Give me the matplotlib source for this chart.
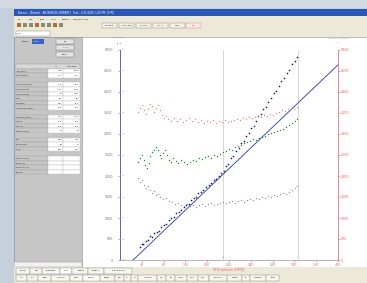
import matplotlib
matplotlib.use('Agg')
import matplotlib.pyplot as plt
from matplotlib.patches import Rectangle

# breath-by-breath data (VO2 on x)
vco2_x = [36, 40, 43, 47, 52, 55, 58, 63, 67, 72, 76, 80, 85, 90, 94, 99, 103, 108, 112, 117,
          121, 126, 131, 135, 140, 144, 149, 153, 158, 163, 167, 172, 176, 181, 186, 190, 195,
          199, 204, 208, 213, 218, 222, 227, 231, 236, 240, 245, 250, 254, 259, 263, 268, 272,
          277, 282, 286, 291, 296, 301, 306, 311, 316, 321, 325]
vco2_y = [300, 390, 370, 450, 480, 560, 540, 650, 660, 700, 790, 840, 860, 950, 1010, 1030, 1110,
          1140, 1180, 1270, 1310, 1340, 1430, 1480, 1510, 1590, 1620, 1660, 1750, 1780, 1830, 1910,
          1930, 2010, 2060, 2120, 2230, 2290, 2420, 2470, 2600, 2660, 2790, 2840, 2960, 3020, 3150,
          3200, 3300, 3420, 3480, 3600, 3650, 3770, 3850, 3980, 4020, 4150, 4250, 4330, 4460, 4520,
          4660, 4730, 4840]

vo2x = [33, 37, 40, 44, 46, 50, 53, 55, 59, 62, 66, 70, 73, 75, 79, 83, 86, 90, 94, 97, 103, 106,
        112, 117, 123, 128, 134, 139, 145, 150, 156, 161, 167, 172, 178, 184, 189, 195, 200, 206,
        211, 217, 222, 228, 233, 239, 244, 250, 255, 261, 266, 272, 277, 283, 288, 294, 299, 305,
        310, 316, 321, 325]
hr_y = [2332, 2428, 2499, 2380, 2261, 2190, 2309, 2475, 2570, 2618, 2689, 2618, 2499, 2428, 2547,
        2618, 2499, 2380, 2332, 2428, 2356, 2309, 2380, 2332, 2285, 2332, 2380, 2356, 2428, 2404,
        2451, 2475, 2428, 2499, 2475, 2523, 2570, 2594, 2642, 2618, 2689, 2713, 2737, 2785, 2808,
        2832, 2880, 2856, 2904, 2927, 2951, 2999, 3023, 3046, 3070, 3094, 3118, 3165, 3213, 3261,
        3308, 3356]

eq_x = [33, 37, 40, 44, 48, 51, 55, 59, 62, 66, 70, 73, 77, 81, 84, 88, 94, 99, 105, 110, 116,
        121, 127, 132, 138, 143, 149, 154, 160, 165, 171, 176, 182, 187, 193, 198, 204, 209, 215,
        220, 226, 231, 237, 242, 248, 253, 259, 264, 270, 275, 281, 286, 292, 297, 303, 308, 314,
        319, 325]
ve_vo2 = [3523, 3618, 3689, 3570, 3475, 3594, 3713, 3665, 3523, 3618, 3689, 3570, 3451, 3380, 3427,
          3356, 3308, 3380, 3308, 3356, 3284, 3332, 3380, 3308, 3356, 3284, 3332, 3261, 3308, 3284,
          3332, 3261, 3308, 3284, 3332, 3284, 3308, 3332, 3356, 3332, 3380, 3356, 3403, 3380, 3403,
          3427, 3403, 3451, 3427, 3475, 3451, 3499, 3523, 3570, 3547, 3594, 3618, 3594, 3641]

eq2_x = [33, 37, 40, 44, 48, 51, 55, 59, 62, 66, 70, 73, 79, 84, 90, 95, 101, 106, 112, 117, 123,
         128, 134, 139, 145, 150, 156, 161, 167, 172, 178, 184, 189, 195, 200, 206, 211, 217, 222,
         228, 233, 239, 244, 250, 255, 261, 266, 272, 277, 283, 288, 294, 299, 305, 310, 316, 321,
         325]
ve_vco2 = [1952, 1856, 1904, 1785, 1714, 1761, 1666, 1595, 1642, 1547, 1571, 1499, 1452, 1476, 1404,
           1380, 1333, 1357, 1309, 1285, 1333, 1285, 1309, 1261, 1309, 1333, 1285, 1333, 1357, 1309,
           1333, 1357, 1380, 1357, 1380, 1404, 1357, 1404, 1428, 1380, 1428, 1452, 1428, 1476, 1452,
           1499, 1476, 1523, 1499, 1547, 1523, 1571, 1595, 1571, 1618, 1666, 1714, 1761]

line_x = [24, 400]
line_y = [0, 4646]
at_vo2 = 189
max_vo2 = 327

x_ticks = [40, 80, 120, 160, 200, 240, 280, 320, 360, 400]
y_ticks = [0, 500, 1000, 1500, 2000, 2500, 3000, 3500, 4000, 4500, 5000]
y2_ticks = [0.0, 0.5, 1.0, 1.5, 2.0, 2.5, 3.0, 3.5, 4.0, 4.5, 5.0]

row_names = ["Time [min]", "Work [Watts]", None, "VO2 [ml/kg/min]", "VO2 [ml/min]",
             "VO2 [% Pred]", "METS", "HR [BPM]", "VO2/HR [ml/beat]", None, "VE BTPS [l/min]",
             "VE/VO2", "VE/VCO2", "PetCO2 [mm]", None, "RER", "RR [br/min]", "Vt [l]", None,
             "SpO2 Analog", "SpO2 [%]", "SpO2 Oxi [%]", "Resp.RR"]
at_vals = ["7:15", "110", None, "21.3", "1904", "68", "6.1", "128", "14.9", None, "48.2",
           "25.3", "27.1", "39", None, "0.93", "24", "2.01", None, "", "", "", ""]
max_vals = ["10:40", "185", None, "33.6", "3010", "107", "9.6", "171", "17.6", None, "112.4",
            "37.3", "31.8", "34", None, "1.21", "41", "2.74", None, "", "", "", ""]

menu_items = ["File", "Edit", "View", "Tools", "Reports", "Data/Test", "Help"]
tool_buttons = ["Collapse", "Zero Test", "Ex Test", "FM AT", "Mark"]
tabs1 = ["Setup", "Test", "Summary", "9 Pl", "Tables", "Graphs", "9 Pl Overlay"]
tabs2 = ["1 Pl", "2 Pl", "Tidal", "Flow Vol", "Loops", "V-slope", "Trends", "RER", "VE",
         "HR", "O2 Pulse", "EqV", "Pet", "SpO2", "Work", "Rest", "Recovery", "Custom", "AT",
         "Summary", "Notes"]

W, H = 367, 283
fig = plt.figure(figsize=(3.67, 2.83), dpi=100)
fig.patch.set_facecolor('#c4d1dd')
bg = fig.add_axes([0, 0, 1, 1])
bg.set_xlim(0, W)
bg.set_ylim(H, 0)
bg.axis('off')


def box(x, y, w, h, fc, ec='none', lw=0.4):
    bg.add_patch(Rectangle((x, y), w, h, facecolor=fc, edgecolor=ec, linewidth=lw))


# window chrome
box(0, 0, W, 8, '#d3dae2')
box(14, 8.5, W - 14, 7.5, '#2a56b6')
bg.text(18, 12.2, "Breeze - [Patient : ANDERSON, ROBERT]   Test : 2/21/2005 3:45 PM  [9 Pl]",
        color='white', fontsize=1.9, va='center')
box(14, 16, W - 14, 21, '#ece9d8')
for i, m in enumerate(menu_items):
    bg.text(18 + i * 11, 19, m, fontsize=1.6, va='center', color='#202020')
for i in range(8):
    box(17 + i * 6, 23, 4, 4, '#8a8a7a' if i % 3 else '#b07030')
for i, b in enumerate(tool_buttons):
    x0 = 102 + i * 17
    box(x0, 22.5, 15, 5, '#f4f2e8', ec='#808080', lw=0.3)
    bg.text(x0 + 7.5, 25, b, fontsize=1.5, ha='center', va='center',
            color='#d02020' if b == "FM AT" else '#202020')
box(186, 22.5, 15, 5, '#fbe8e8', ec='#d08080', lw=0.3)
bg.text(193.5, 25, "HR", fontsize=1.5, ha='center', va='center', color='#d02020')
box(16, 30.5, 34, 5, 'white', ec='#808080', lw=0.3)
bg.text(17, 33, "9 Pl", fontsize=1.6, va='center')

# left panel
box(14, 37, 68, 230, '#c6c6c6', ec='#808080', lw=0.4)
bg.text(22, 41.5, "Label", fontsize=1.7, va='center')
box(32, 39, 12, 5, '#3a62c4')
bg.text(33, 41.5, "A0001", fontsize=1.5, va='center', color='white')
for j, lab in enumerate(["Fix", "<  >", "Clear"]):
    box(56, 38.5 + j * 6.5, 18, 5, '#e4e4e4', ec='#707070', lw=0.3)
    bg.text(65, 41 + j * 6.5, lab, fontsize=1.5, ha='center', va='center')

y0 = 64
rh = 4.6
box(15, y0, 65, rh, '#d8d8d8', ec='#909090', lw=0.3)
bg.text(56, y0 + rh / 2, "AT", fontsize=1.5, ha='center', va='center')
bg.text(72, y0 + rh / 2, "VO2 Max", fontsize=1.5, ha='center', va='center')
for i, name in enumerate(row_names):
    yy = y0 + rh * (i + 1)
    if name is None:
        box(15, yy, 65, rh, '#c6c6c6')
        continue
    box(15, yy, 33, rh, '#c6c6c6', ec='#9a9a9a', lw=0.25)
    box(48, yy, 15, rh, 'white', ec='#b0b0b0', lw=0.25)
    box(63, yy, 17, rh, 'white', ec='#b0b0b0', lw=0.25)
    bg.text(16, yy + rh / 2, name, fontsize=1.4, va='center', color='#202020')
    bg.text(62, yy + rh / 2, at_vals[i], fontsize=1.4, ha='right', va='center')
    bg.text(79, yy + rh / 2, max_vals[i], fontsize=1.4, ha='right', va='center')

# plot area
box(82, 37, W - 82, 230, 'white', ec='#a0a0a0', lw=0.4)

# bottom tabs
box(14, 262, 68, 5, '#f2f2f2', ec='#909090', lw=0.3)
box(14, 267, W - 14, 16, '#ece9d8')
x = 16
for t in tabs1:
    w = len(t) * 2.0 + 4
    box(x, 268, w, 5.5, '#f7f6ef' if t != "9 Pl" else 'white', ec='#808080', lw=0.3)
    bg.text(x + w / 2, 270.8, t, fontsize=1.5, ha='center', va='center')
    x += w
x = 16
for t in tabs2:
    w = len(t) * 1.9 + 3.5
    box(x, 275, w, 5.5, '#f7f6ef' if t != "V-slope" else 'white', ec='#808080', lw=0.3)
    bg.text(x + w / 2, 277.8, t, fontsize=1.3, ha='center', va='center')
    x += w

# axis captions above the plot
bg.text(119, 38, "VCO2  VO2", fontsize=1.7, ha='center', va='center', color='#6070a0')
bg.text(119, 43, "\u25b4  \u25b4", fontsize=1.6, ha='center', va='center', color='#404060')
bg.text(338, 38, "VE/VO2  VE/VCO2", fontsize=1.7, ha='center', va='center', color='#e07070')
bg.text(338, 43, "\u25b4", fontsize=1.6, ha='center', va='center', color='#e07070')

# chart axes
ax = fig.add_axes([120 / W, 23 / H, 218 / W, 210 / H])
ax.patch.set_alpha(0)
ax.set_xlim(0, 400)
ax.set_ylim(0, 5000)
for s in ['top', 'right']:
    ax.spines[s].set_visible(False)
ax.spines['left'].set_color('#5a66a8')
ax.spines['left'].set_linewidth(0.7)
ax.spines['bottom'].set_color('#a8a8a8')
ax.spines['bottom'].set_linewidth(0.6)
ax.set_xticks(x_ticks)
ax.set_xticklabels([str(v) for v in x_ticks])
ax.set_yticks(y_ticks)
ax.tick_params(axis='x', colors='#e06060', labelsize=2.3, length=1.2, width=0.4, pad=1)
ax.tick_params(axis='y', colors='#707070', labelsize=2.3, length=1.2, width=0.4, pad=4)
ax.set_xlabel("VO2 [ml/min STPD]", fontsize=2.3, color='#e06060', labelpad=0.5)

ax.axvline(at_vo2, color='#c8c8c8', lw=0.5)
ax.axvline(max_vo2, color='#c8c8c8', lw=0.5)
ax.text(at_vo2, 40, "AT", fontsize=1.6, color='#606060', ha='center', va='bottom')

ax.plot(line_x, line_y, color='#4450a8', lw=0.7, clip_on=False)
ax.plot(vo2x, hr_y, '.', color='#1f8a24', ms=2.0, mew=0)
ax.plot(vco2_x, vco2_y, '.', color='#1c1c88', ms=2.4, mew=0)

ax2 = ax.twinx()
ax2.set_ylim(0, 5000)
ax2.set_yticks(y_ticks)
for s in ['top', 'left', 'bottom']:
    ax2.spines[s].set_visible(False)
ax2.spines['right'].set_color('#e07a7a')
ax2.spines['right'].set_linewidth(0.6)
ax2.tick_params(axis='y', colors='#e06060', labelsize=2.3, length=1.2, width=0.4, pad=1)
ax2.plot(eq_x, ve_vo2, '.', color='#e8806c', ms=1.9, mew=0)
ax2.plot(eq2_x, ve_vco2, '.', color='#8c8cb4', ms=1.9, mew=0)

ax3 = ax.twinx()
ax3.set_ylim(0, 5.0)
ax3.set_yticks(y2_ticks)
ax3.set_yticklabels(["%.1f" % v for v in y2_ticks])
ax3.spines['right'].set_position(('axes', 0))
for s in ['top', 'left', 'bottom', 'right']:
    ax3.spines[s].set_visible(False)
ax3.tick_params(axis='y', colors='#8aa08a', labelsize=1.6, length=1.0, width=0.3, pad=0.6)

fig.savefig('out.png', dpi=100)
